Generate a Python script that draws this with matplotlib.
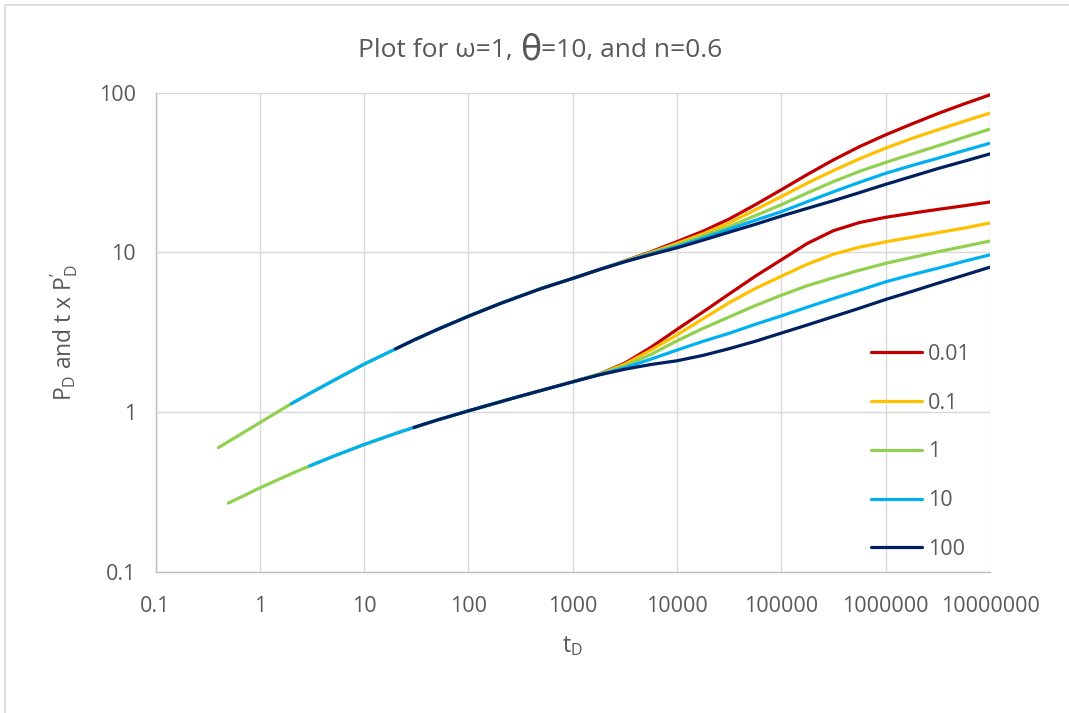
import matplotlib
matplotlib.use("Agg")
import matplotlib.pyplot as plt
from matplotlib.lines import Line2D
from matplotlib.ticker import FixedLocator, FixedFormatter, NullLocator

plt.rcParams['font.family'] = ['Open Sans', 'DejaVu Sans']
plt.rcParams['mathtext.fontset'] = 'custom'
plt.rcParams['mathtext.rm'] = 'Open Sans'
plt.rcParams['mathtext.it'] = 'Open Sans:italic'

# ---- data -------------------------------------------------------------
series_names = ['0.01', '0.1', '1', '10', '100']
series_colors = ['#C00000', '#FFC000', '#92D050', '#00B0F0', '#002060']

# late-time samples shared by both groups (quarter decades)
t_late = [1778, 3162, 5623, 1e4, 17783, 31623, 56234, 1e5, 177828,
          316228, 562341, 1e6, 1778279, 3162278, 5623413, 1e7]

# dimensionless pressure P_D
t_pd_early = [0.4, 1, 2, 3, 5, 10, 20, 30, 50, 100, 200, 300, 500, 1000]
pd_shared = [0.6, 0.86, 1.13, 1.31, 1.57, 2.0, 2.49, 2.83, 3.29, 3.99, 4.78, 5.27, 5.95, 6.88]
pd_001 = [7.8, 8.85, 10.1, 11.7, 13.6, 16.2, 19.9, 24.7, 30.8, 38.0, 46.0, 54.5, 63.7, 74.0, 85.0, 97.0]
pd_01 = [7.8, 8.82, 10.0, 11.4, 13.1, 15.3, 18.5, 22.4, 27.2, 32.6, 38.6, 45.0, 51.7, 58.6, 66.2, 74.5]
pd_1 = [7.8, 8.8, 9.9, 11.1, 12.7, 14.5, 17.0, 19.9, 23.6, 27.8, 32.2, 36.6, 41.3, 46.5, 52.5, 59.2]
pd_10 = [7.8, 8.78, 9.8, 10.9, 12.3, 14.0, 15.9, 18.0, 20.8, 24.0, 27.5, 31.3, 35.0, 38.9, 43.4, 48.3]
pd_100 = [7.8, 8.75, 9.7, 10.7, 11.95, 13.4, 15.0, 16.9, 18.9, 21.1, 23.7, 26.7, 29.9, 33.5, 37.2, 41.4]
pd_start = [1000, 100, 0.4, 2, 20]

# pressure derivative t x P_D'
t_dpd_early = [0.5, 0.7, 1, 2, 3, 5, 10, 20, 30, 50, 100, 200, 300, 500, 1000]
dpd_shared = [0.27, 0.30, 0.336, 0.412, 0.461, 0.528, 0.628, 0.736, 0.803, 0.893,
              1.02, 1.16, 1.25, 1.37, 1.55]
dpd_001 = [1.73, 2.03, 2.55, 3.3, 4.25, 5.5, 7.1, 9.0, 11.4, 13.7, 15.4, 16.6, 17.6, 18.6, 19.6, 20.7]
dpd_01 = [1.73, 2.0, 2.45, 3.05, 3.85, 4.85, 5.95, 7.1, 8.45, 9.75, 10.8, 11.65, 12.45, 13.3, 14.2, 15.3]
dpd_1 = [1.72, 1.95, 2.3, 2.8, 3.35, 3.95, 4.65, 5.4, 6.2, 6.95, 7.75, 8.55, 9.3, 10.1, 10.9, 11.8]
dpd_10 = [1.72, 1.9, 2.15, 2.45, 2.78, 3.12, 3.55, 4.01, 4.55, 5.15, 5.8, 6.55, 7.25, 7.97, 8.8, 9.66]
dpd_100 = [1.71, 1.86, 1.99, 2.1, 2.27, 2.5, 2.78, 3.13, 3.52, 3.97, 4.48, 5.08, 5.7, 6.42, 7.2, 8.09]
dpd_start = [1000, 100, 0.5, 3, 30]

x_ticks = [0.1, 1, 10, 100, 1000, 10000, 100000, 1000000, 10000000]
x_tick_labels = ['0.1', '1', '10', '100', '1000', '10000', '100000', '1000000', '10000000']
y_ticks = [0.1, 1, 10, 100]
y_tick_labels = ['0.1', '1', '10', '100']

pd_late = [pd_001, pd_01, pd_1, pd_10, pd_100]
dpd_late = [dpd_001, dpd_01, dpd_1, dpd_10, dpd_100]

# ---- figure -----------------------------------------------------------
W, H = 1069, 713
fig = plt.figure(figsize=(W / 100, H / 100), dpi=100)
ax = fig.add_axes([155.5 / W, 1 - 572 / H, (990 - 155.5) / W, (572 - 92.7) / H])

text_gray = '#595959'
grid_gray = '#D9D9D9'


def clipped(t, v, start):
    pairs = [(a, b) for a, b in zip(t, v) if a >= start]
    return [p[0] for p in pairs], [p[1] for p in pairs]


line_kw = dict(lw=2.3, solid_capstyle='round', solid_joinstyle='round')

for color, late, s in zip(series_colors, pd_late, pd_start):
    x, y = clipped(t_pd_early + t_late, pd_shared + late, s)
    ax.plot(x, y, color=color, **line_kw)

for name, color, late, s in zip(series_names, series_colors, dpd_late, dpd_start):
    x, y = clipped(t_dpd_early + t_late, dpd_shared + late, s)
    ax.plot(x, y, color=color, label=name, **line_kw)

ax.set_xscale('log')
ax.set_yscale('log')
ax.set_xlim(0.1, 1e7)
ax.set_ylim(0.1, 100)

ax.xaxis.set_major_locator(FixedLocator(x_ticks))
ax.xaxis.set_major_formatter(FixedFormatter(x_tick_labels))
ax.xaxis.set_minor_locator(NullLocator())
ax.yaxis.set_major_locator(FixedLocator(y_ticks))
ax.yaxis.set_major_formatter(FixedFormatter(y_tick_labels))
ax.yaxis.set_minor_locator(NullLocator())

ax.grid(True, which='major', color=grid_gray, lw=1.0)
ax.set_axisbelow(True)
for side in ['top', 'right']:
    ax.spines[side].set_visible(False)
for side in ['left', 'bottom']:
    ax.spines[side].set_color('#BFBFBF')
    ax.spines[side].set_linewidth(1.0)

ax.tick_params(axis='both', length=0, labelsize=15.5, labelcolor=text_gray)
ax.tick_params(axis='x', pad=17)
ax.tick_params(axis='y', pad=14)

ax.set_xlabel(r'$\mathregular{t_D}$', fontsize=16.5, color=text_gray)
ax.xaxis.set_label_coords(0.5, -0.13)
ax.xaxis.label.set_va('top')
ax.set_ylabel("$\\mathregular{P_D}$ and t x $\\mathregular{P_D^{\u2019}}$",
              fontsize=16.5, color=text_gray)
ax.yaxis.set_label_coords(-0.09, 0.5)

# title: the theta is set in a larger face
title_y = 1 - 50 / H
t1 = fig.text(0, title_y, 'Plot for ω=1, ', fontsize=19, color=text_gray, va='center')
t2 = fig.text(0, title_y, 'θ', fontsize=25, color=text_gray, va='center',
              family=['DejaVu Sans'])
t3 = fig.text(0, title_y, '=10, and n=0.6', fontsize=19, color=text_gray, va='center')
renderer = fig.canvas.get_renderer()
widths = [t.get_window_extent(renderer).width for t in (t1, t2, t3)]
x0 = 540 - sum(widths) / 2
for t, w in zip((t1, t2, t3), widths):
    t.set_x(x0 / W)
    x0 += w

ax.legend(loc='upper left', bbox_to_anchor=(860 / W, 1 - 333 / H), bbox_transform=fig.transFigure,
          frameon=False, fontsize=15.5, labelcolor=text_gray, handlelength=2.4,
          handletextpad=0.25, labelspacing=1.29, borderpad=0)

# chart-area outline
fig.add_artist(Line2D([4.5 / W, 4.5 / W, 1.0], [0.0, 1 - 4.5 / H, 1 - 4.5 / H],
                      transform=fig.transFigure, color=grid_gray, lw=1.2))

fig.savefig('out.png', dpi=100)
